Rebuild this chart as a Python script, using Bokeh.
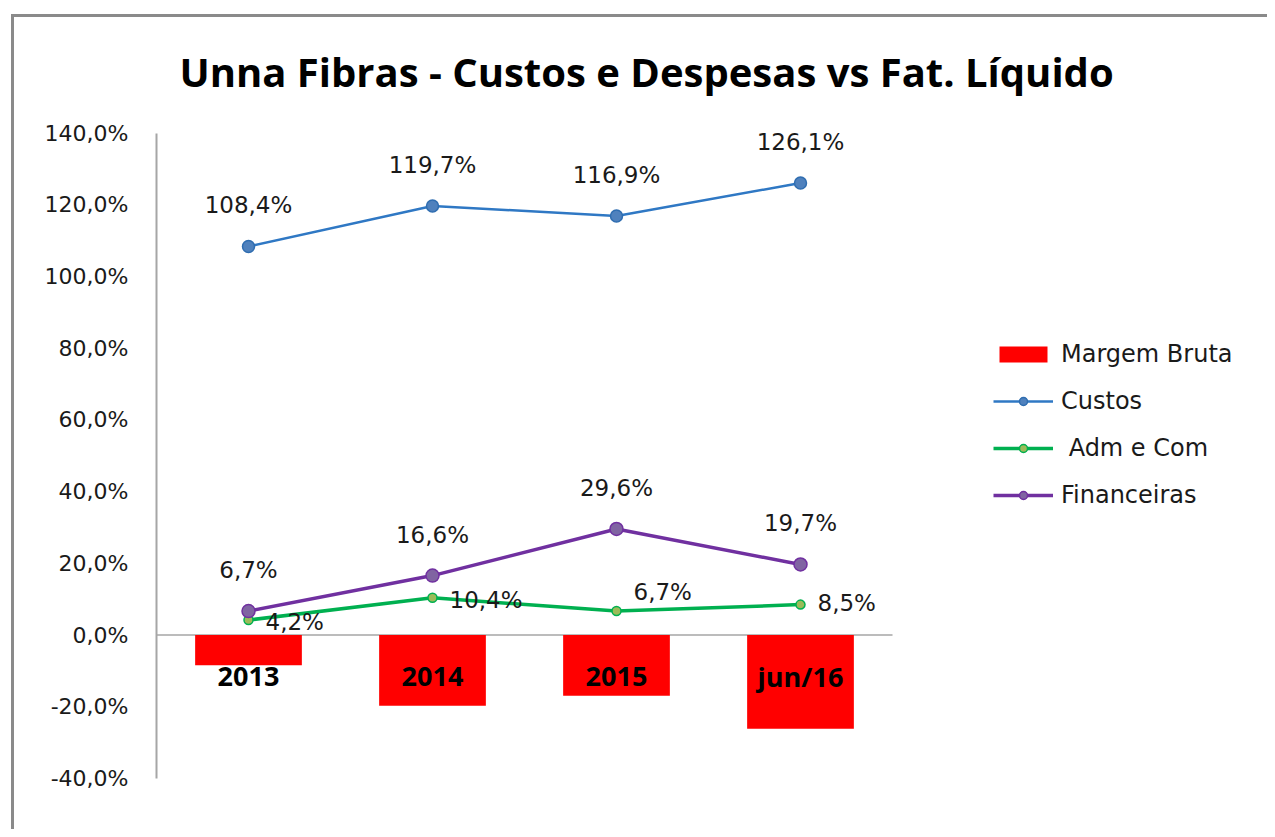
from bokeh.plotting import figure
from bokeh.models import Range1d, Legend, LegendItem, ColumnDataSource, FixedTicker
from bokeh.core.properties import value
from bokeh.embed import file_html
from bokeh.resources import INLINE

# ---- data ----
categories = ["2013", "2014", "2015", "jun/16"]
margem_bruta = [-8.4, -19.7, -16.9, -26.1]
custos = [108.4, 119.7, 116.9, 126.1]
adm_com = [4.2, 10.4, 6.7, 8.5]
financeiras = [6.7, 16.6, 29.6, 19.7]
y_ticks = [-40, -20, 0, 20, 40, 60, 80, 100, 120, 140]
title_text = "Unna Fibras - Custos e Despesas vs Fat. Líquido"

# ---- layout constants (pixels) ----
CANVAS_W, CANVAS_H = 1256, 815
BORDER_L, BORDER_T, BORDER_B = 142, 87, 54
CAT_PX = 184                      # width of one category slot
FRAME_W = CANVAS_W - BORDER_L
adm_label_dy = [2, 2, -19, -2]    # label nudges (style)


def pct(v):
    return f"{v:.1f}".replace(".", ",") + "%"


n = len(categories)
xpos = [i + 0.5 for i in range(n)]   # category slot centres on the x scale

src = ColumnDataSource(dict(
    x=xpos,
    cat=categories,
    mb=margem_bruta,
    cu=custos,
    ad=adm_com,
    fi=financeiras,
    zero=[0.0] * n,
    cu_lbl=[pct(v) for v in custos],
    ad_lbl=[pct(v) for v in adm_com],
    fi_lbl=[pct(v) for v in financeiras],
    ad_dy=adm_label_dy,
))

p = figure(
    x_range=Range1d(0, FRAME_W / CAT_PX),
    y_range=Range1d(-40, 148),
    width=CANVAS_W, height=CANVAS_H,
    output_backend="svg", toolbar_location=None,
    min_border_left=BORDER_L, min_border_right=0,
    min_border_top=BORDER_T, min_border_bottom=BORDER_B,
)
p.margin = (14, 0, 0, 11)
p.styles = {"border-left": "3px solid #8a8a8a", "border-top": "3px solid #8a8a8a"}

p.outline_line_color = None
p.xgrid.visible = False
p.ygrid.visible = False
p.xaxis.visible = False

# y axis
ya = p.yaxis[0]
ya.ticker = FixedTicker(ticks=y_ticks)
ya.bounds = (min(y_ticks), max(y_ticks))
ya.major_label_overrides = {t: pct(t) for t in y_ticks}
ya.axis_line_color = "#a6a6a6"
ya.axis_line_width = 2
ya.major_tick_line_color = None
ya.minor_tick_line_color = None
ya.major_tick_out = 0
ya.major_label_standoff = 28
ya.major_label_text_font = "DejaVu Sans"
ya.major_label_text_font_size = "22px"
ya.major_label_text_color = "#1a1a1a"

# title
p.title.text = title_text
p.title.align = "left"
p.title.offset = 23
p.title.text_font = "Open Sans"
p.title.text_font_size = "40px"
p.title.text_font_style = "bold"
p.title.text_color = "#000000"
p.title.standoff = 11

# zero (category) axis line across the category slots only
p.segment(x0=0, y0=0, x1=n, y1=0, line_color="#a6a6a6", line_width=1.5)

# bars
bars = p.vbar(x="x", top="mb", bottom=0, width=0.58, source=src,
              fill_color="#ff0000", line_color=None)

# lines
adm_line = p.line("x", "ad", source=src, line_color="#00b050", line_width=3.5)
adm_pts = p.scatter("x", "ad", source=src, size=9, fill_color="#9bbb59",
                    line_color="#00b050", line_width=1.5)
fin_line = p.line("x", "fi", source=src, line_color="#7030a0", line_width=3.5)
fin_pts = p.scatter("x", "fi", source=src, size=13, fill_color="#8064a2",
                    line_color="#7030a0", line_width=1.5)
cu_line = p.line("x", "cu", source=src, line_color="#2f78c4", line_width=2.5)
cu_pts = p.scatter("x", "cu", source=src, size=12, fill_color="#4f81bd",
                   line_color="#2f6db0", line_width=1.5)

# category labels (next to axis)
p.text(x="x", y="zero", text="cat", source=src, y_offset=41,
       text_align="center", text_baseline="middle",
       text_font=value("Open Sans"), text_font_size="27px",
       text_font_style="bold", text_color="#000000")

lbl_kw = dict(text_font=value("DejaVu Sans"), text_font_size="23px",
              text_color="#1a1a1a", text_baseline="middle")
p.text(x="x", y="cu", text="cu_lbl", source=src, y_offset=-41,
       text_align="center", **lbl_kw)
p.text(x="x", y="fi", text="fi_lbl", source=src, y_offset=-41,
       text_align="center", **lbl_kw)
p.text(x="x", y="ad", text="ad_lbl", source=src, x_offset=17, y_offset="ad_dy",
       text_align="left", **lbl_kw)

# legend
legend = Legend(items=[
    LegendItem(label="Margem Bruta", renderers=[bars]),
    LegendItem(label="Custos", renderers=[cu_line, cu_pts]),
    LegendItem(label=" Adm e Com", renderers=[adm_line, adm_pts]),
    LegendItem(label="Financeiras", renderers=[fin_line, fin_pts]),
], location=(837, 269))
legend.background_fill_alpha = 0
legend.border_line_color = None
legend.padding = 0
legend.margin = 0
legend.glyph_width = 60
legend.glyph_height = 20
legend.label_height = 20
legend.spacing = 19
legend.label_standoff = 8
legend.label_text_font = "DejaVu Sans"
legend.label_text_font_size = "24px"
legend.label_text_color = "#1a1a1a"
legend.label_text_baseline = "middle"
p.add_layout(legend, "center")

open("out.html", "w").write(file_html(p, INLINE))
